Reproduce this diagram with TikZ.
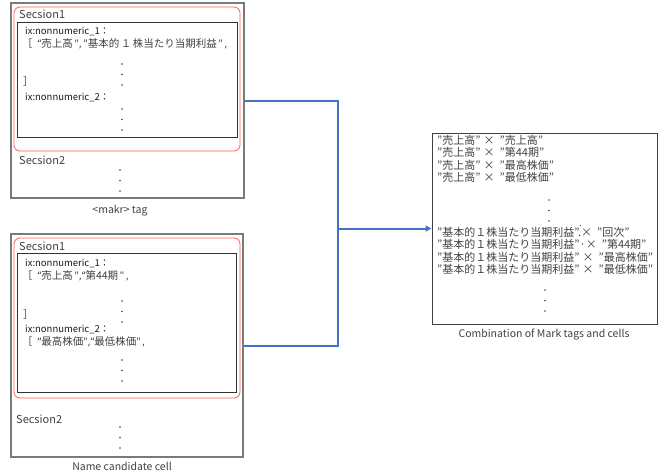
\documentclass[tikz,border=0pt]{standalone}
\usepackage{fontspec}
\setmainfont{Noto Sans CJK JP}
\newfontfamily\latq{Noto Sans}
\usetikzlibrary{arrows.meta}
\definecolor{boxgray}{HTML}{7A7A7A}
\definecolor{redline}{HTML}{FF5B5B}
\definecolor{connblue}{HTML}{4472C4}
\definecolor{txt}{HTML}{404040}
\tikzset{
  outerbox/.style={draw=boxgray, line width=1.3pt},
  redbox/.style={draw=redline, line width=0.8pt, rounded corners=6pt},
  innerbox/.style={draw=black!80, line width=1pt},
  rbox/.style={draw=black!75, line width=1pt},
  sec/.style={anchor=west, inner sep=0pt, font=\fontsize{11}{12}\selectfont, text=txt},
  ix/.style={anchor=west, inner sep=0pt, font=\fontsize{9.5}{11}\selectfont, text=black!90},
  jp/.style={anchor=west, inner sep=0pt, font=\fontsize{10.5}{11}\selectfont, text=txt},
  rt/.style={anchor=west, inner sep=0pt, text height=8pt, text depth=2pt,
    font=\fontsize{11}{12}\selectfont, text=txt},
  captext/.style={inner sep=0pt, font=\fontsize{10.5}{12}\selectfont, text=txt},
  dotc/.style={fill=txt, draw=none, circle, inner sep=0pt, minimum size=1.6pt},
  conn/.style={draw=connblue, line width=2pt},
}
\newcommand{\vdotsat}[3]{%
  \node[dotc] (#1a) at (#2,#3) {};
  \node[dotc] (#1b) at (#2,#3+10.5) {};
  \node[dotc] (#1c) at (#2,#3+21) {};}
\newcommand{\xx}{\hspace{3pt}×\hspace{5pt}}
\newcommand{\oq}{{\latq “}}
\newcommand{\cq}{{\latq ”}}
\newcommand{\sq}{{\latq "}}
\newcommand{\cm}{{\latq ,}}
\begin{document}
\begin{tikzpicture}[x=1pt,y=-1pt]
\useasboundingbox (0,0) rectangle (662,474);
% ---------- top group ----------
\node[outerbox, minimum width=233pt, minimum height=195pt, inner sep=0pt] (outer1) at (127.5,100.5) {};
\node[redbox, minimum width=226pt, minimum height=144pt, inner sep=0pt] (red1) at (127,79) {};
\node[innerbox, minimum width=220pt, minimum height=115pt, inner sep=0pt] (inner1) at (127,79.5) {};
\node[sec] (s1a) at (19,14) {Secsion1};
\node[ix] (ix1a) at (25,31) {ix:nonnumeric\_1：};
\node[jp] (l1a) at (22,44) {［\hspace{5pt}\oq 売上高\,\sq\cm\,\sq 基本的\hspace{1.5pt}１\hspace{1.5pt}株当たり当期利益\,\sq\,\cm};
\vdotsat{d1}{122}{64}
\node[jp] (b1a) at (23,82) {］};
\node[ix] (ix2a) at (25,97) {ix:nonnumeric\_2：};
\vdotsat{d2}{122}{109}
\node[sec] (s2a) at (19,160) {Secsion2};
\vdotsat{d3}{120}{170}
\node[captext] (cap1) at (120,211) {<makr> tag};
% ---------- bottom group ----------
\node[outerbox, minimum width=232pt, minimum height=223pt, inner sep=0pt] (outer2) at (127,345.5) {};
\node[redbox, minimum width=226pt, minimum height=160pt, inner sep=0pt] (red2) at (127,318) {};
\node[innerbox, minimum width=219pt, minimum height=139pt, inner sep=0pt] (inner2) at (126.5,322.5) {};
\node[sec] (s1b) at (19,246) {Secsion1};
\node[ix] (ix1b) at (25,263) {ix:nonnumeric\_1：};
\node[jp] (l1b) at (22,276) {［\hspace{5pt}\oq 売上高\,\sq\cm\oq 第44期\,\sq\,\cm};
\vdotsat{d4}{122}{301}
\node[jp] (b1b) at (23,315) {］};
\node[ix] (ix2b) at (25,329) {ix:nonnumeric\_2：};
\node[jp] (l2b) at (22,342) {［\hspace{5pt}\oq 最高株価\sq\cm\oq 最低株価\sq\,\cm};
\vdotsat{d5}{122}{360}
\node[sec] (s2b) at (16,419) {Secsion2};
\vdotsat{d6}{120}{427}
\node[captext] (cap2) at (122,466) {Name candidate cell};
% ---------- right box ----------
\node[rbox, minimum width=225pt, minimum height=191pt, inner sep=0pt] (right) at (544.5,228.5) {};
\node[rt] (r1) at (437,141) {"売上高"\xx"売上高"};
\node[rt] (r2) at (437,153.5) {"売上高"\xx"第44期"};
\node[rt] (r3) at (437,166) {"売上高"\xx"最高株価"};
\node[rt] (r4) at (437,178.5) {"売上高"\xx"最低株価"};
\vdotsat{d7}{549}{200}
\node[rt] (r5) at (437,233) {"基本的１株当たり当期利益".×\hspace{5pt}"回次"};
\node[dotc, minimum size=1.3pt] (sd) at (580.5,225.5) {};
\node[rt] (r6) at (437,245.5) {"基本的１株当たり当期利益"·×\hspace{5pt}"第44期"};
\node[rt] (r7) at (437,258) {"基本的１株当たり当期利益"\xx"最高株価"};
\node[rt] (r8) at (437,270.5) {"基本的１株当たり当期利益"\xx"最低株価"};
\vdotsat{d8}{545}{290}
\node[captext] (cap3) at (544,335) {Combination of Mark tags and cells};
% ---------- connectors ----------
\coordinate (j) at (338,228.5);
\draw[conn] (outer1.east) -| (j);
\draw[conn] (outer2.east) -| (j);
\draw[conn, -{Triangle[length=6pt,width=6pt]}] (j) -- (right.west);
\end{tikzpicture}
\end{document}
